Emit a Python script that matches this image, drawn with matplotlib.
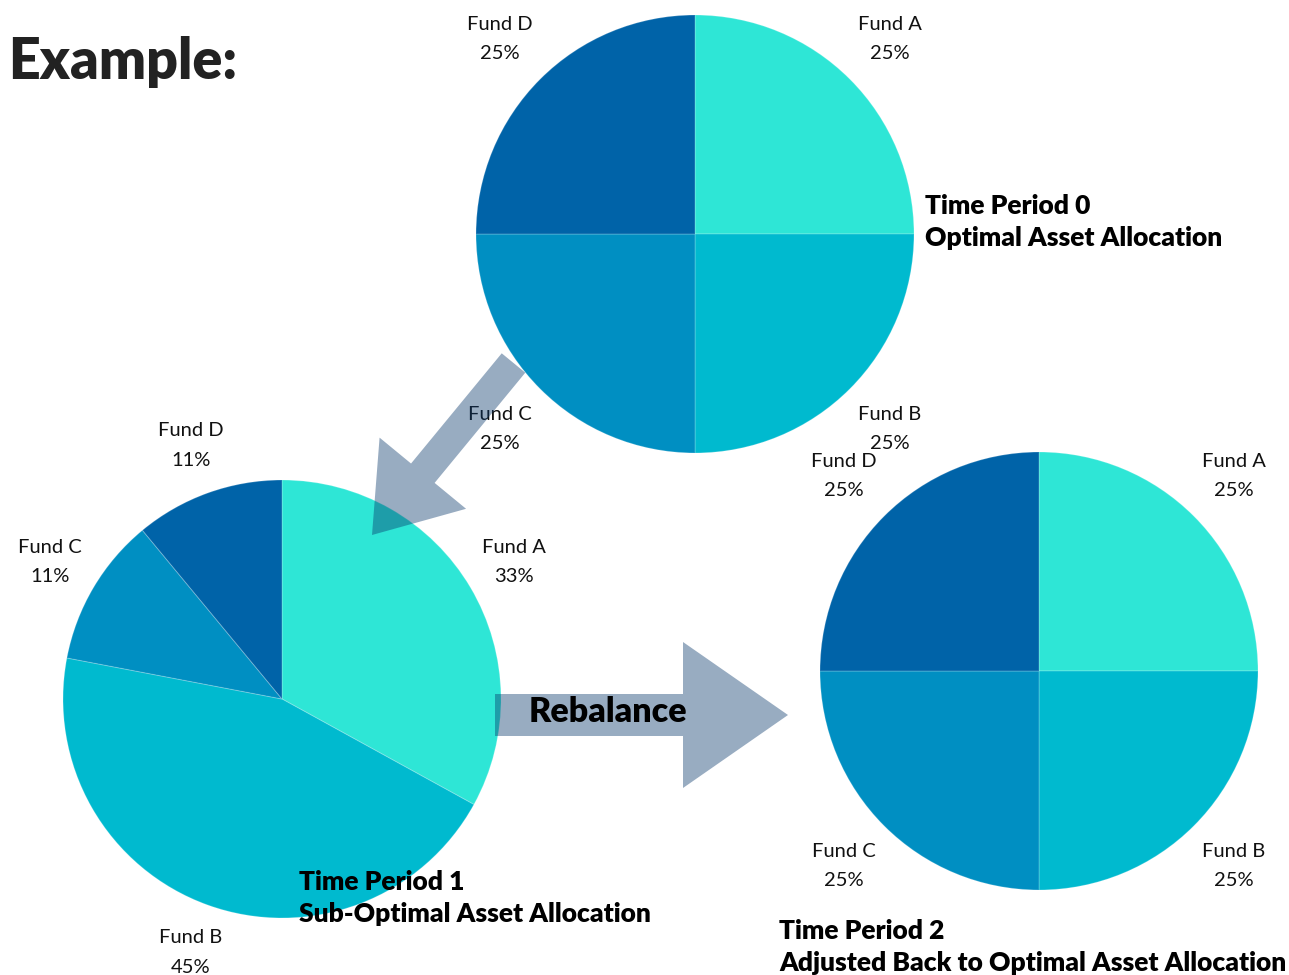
import matplotlib.pyplot as plt
from matplotlib.patches import FancyArrow

funds = ["Fund A", "Fund B", "Fund C", "Fund D"]
period0 = [25, 25, 25, 25]
period1 = [33, 45, 11, 11]
period2 = [25, 25, 25, 25]
fund_colors = ["#2EE6D6", "#00BACF", "#008FC2", "#0063A8"]

label_kw = {"fontsize": 14.5, "fontfamily": "Lato", "fontweight": "normal",
            "ha": "center", "va": "center", "linespacing": 1.9, "color": "#111111"}
title_kw = {"fontsize": 19, "fontfamily": "Lato", "fontweight": "heavy",
            "ha": "left", "va": "baseline", "linespacing": 1.42, "color": "black"}

W, H = 1289, 975
fig = plt.figure(figsize=(W / 100, H / 100), dpi=100)
ax = fig.add_axes([0, 0, 1, 1])

R = 219


def draw_pie(values, center, dist):
    labels = [f"{f}\n{v}%" for f, v in zip(funds, values)]
    ax.pie(values, labels=labels, colors=fund_colors, center=center, radius=R,
           startangle=90, counterclock=False, labeldistance=dist,
           wedgeprops={"linewidth": 0.8, "edgecolor": (1, 1, 1, 0.2)},
           textprops=label_kw)


draw_pie(period0, (695, H - 234), 1.26)
draw_pie(period1, (282, H - 699), 1.23)
draw_pie(period2, (1039, H - 671), 1.26)

arrow_color = "#0A396C"
ax.add_patch(FancyArrow(513.5, H - 363, -141.5, -172, width=30.5, head_width=112,
                        head_length=80, length_includes_head=True,
                        color=arrow_color, alpha=0.42, lw=0, zorder=5))
ax.add_patch(FancyArrow(495, H - 715, 293, 0, width=42, head_width=146,
                        head_length=105, length_includes_head=True,
                        color=arrow_color, alpha=0.42, lw=0, zorder=5))

ax.text(608, H - 712, "Rebalance", fontsize=24.5, fontfamily="Lato", fontweight="heavy",
        ha="center", va="center", color="black", zorder=6)
ax.text(8, H - 79, "Example:", fontsize=40, fontfamily="Lato", fontweight="heavy",
        ha="left", va="baseline", color="#222222")
# va="baseline" lines up the last line, so these y values are the second-line baselines
ax.text(925, H - 246, "Time Period 0\nOptimal Asset Allocation", **title_kw)
ax.text(299, H - 922, "Time Period 1\nSub-Optimal Asset Allocation", **title_kw)
ax.text(779, H - 971, "Time Period 2\nAdjusted Back to Optimal Asset Allocation", **title_kw)

ax.set_xlim(0, W)
ax.set_ylim(0, H)
ax.set_aspect("equal")
ax.axis("off")

fig.savefig("out.png", dpi=100)
